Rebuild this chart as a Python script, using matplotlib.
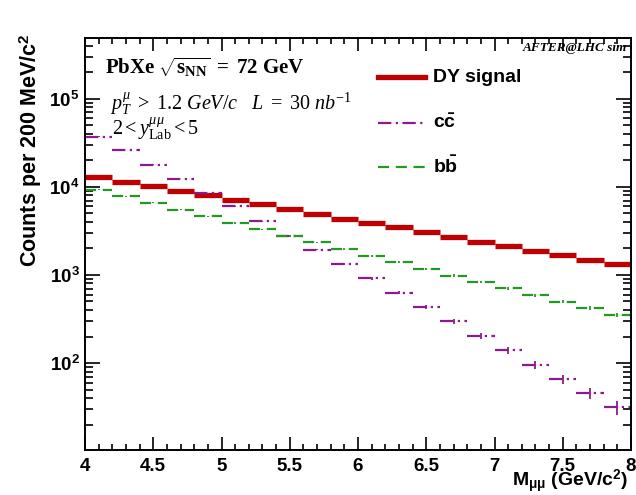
import numpy as np
import matplotlib
matplotlib.use("Agg")
import matplotlib.pyplot as plt
from matplotlib.ticker import LogLocator, MultipleLocator, FuncFormatter, NullFormatter

plt.rcParams['mathtext.fontset'] = 'custom'
plt.rcParams['mathtext.rm'] = 'Liberation Serif'
plt.rcParams['mathtext.it'] = 'Liberation Serif:italic'
plt.rcParams['mathtext.bf'] = 'Liberation Serif:bold'
plt.rcParams['mathtext.sf'] = 'Liberation Sans:bold'

# bin edges in dimuon mass (GeV/c^2), 200 MeV bins
mass_edges = [4.0, 4.2, 4.4, 4.6, 4.8, 5.0, 5.2, 5.4, 5.6, 5.8, 6.0,
              6.2, 6.4, 6.6, 6.8, 7.0, 7.2, 7.4, 7.6, 7.8, 8.0]

dy_counts = [12860, 11500, 10150, 9080, 8110, 7180, 6330, 5560, 4930, 4370,
             3860, 3475, 3105, 2720, 2390, 2135, 1887, 1686, 1493, 1333]
cc_counts = [37300, 26300, 17900, 12300, 8500, 6000, 4050, 2800, 1940, 1333,
             916, 630, 433, 297, 204, 140, 96, 66, 45.6, 31.3]
bb_counts = [9310, 7820, 6580, 5520, 4640, 3895, 3300, 2770, 2345, 1970,
             1645, 1390, 1180, 982, 832, 705, 586, 498, 422, 351]

sans = 'Liberation Sans'

fig = plt.figure(figsize=(6.36, 4.95), dpi=100)
ax = fig.add_axes([85 / 636, 45 / 495, 546 / 636, 412 / 495])

edges = np.array(mass_edges)
centers = 0.5 * (edges[:-1] + edges[1:])


def draw_hist(counts, color, lw, ls):
    counts = np.array(counts)
    err = np.sqrt(counts)
    ax.hlines(counts, edges[:-1], edges[1:], colors=color, linewidth=lw, linestyles=[ls])
    ax.vlines(centers, counts - err, counts + err, colors=color, linewidth=1.3)


draw_hist(dy_counts, '#c00000', 3.8, 'solid')
draw_hist(cc_counts, '#8c1a8c', 1.6, (0, (6, 2, 1, 2)))
draw_hist(bb_counts, '#229922', 1.6, (0, (5, 3)))

ax.set_yscale('log')
ax.set_xlim(4, 8)
ax.set_ylim(10.3, 4.9e5)

ax.xaxis.set_major_locator(MultipleLocator(0.5))
ax.xaxis.set_minor_locator(MultipleLocator(0.1))
ax.xaxis.set_major_formatter(FuncFormatter(lambda v, p: f'{v:g}'))
ax.yaxis.set_major_locator(LogLocator(base=10, numticks=10))
ax.yaxis.set_minor_locator(LogLocator(base=10, subs=np.arange(2, 10), numticks=10))
ax.yaxis.set_minor_formatter(NullFormatter())
ax.yaxis.set_major_formatter(FuncFormatter(lambda v, p: r'$\mathsf{10^{%d}}$' % round(np.log10(v))))

ax.tick_params(axis='both', which='both', direction='in', top=True, right=True, width=1.2, colors='black')
ax.tick_params(axis='x', which='major', length=9.5, pad=6)
ax.tick_params(axis='x', which='minor', length=4.5)
ax.tick_params(axis='y', which='major', length=11, pad=4)
ax.tick_params(axis='y', which='minor', length=5.5)
for lab in ax.get_xticklabels():
    lab.set_fontfamily(sans)
    lab.set_fontweight('bold')
    lab.set_fontsize(13.5)
for lab in ax.get_yticklabels():
    lab.set_fontsize(13.5)
for s in ax.spines.values():
    s.set_linewidth(1.4)

ax.set_xlabel(r'M$_{\mathsf{\mu\mu}}$ (GeV/c$^{\mathsf{2}}$)', fontfamily=sans, fontweight='bold', fontsize=14)
ax.xaxis.set_label_coords(0.995, -0.077)
ax.xaxis.label.set_horizontalalignment('right')
ax.xaxis.label.set_verticalalignment('center')
ax.set_ylabel(r'Counts per 200 MeV/c$^{\mathsf{2}}$', fontfamily=sans, fontweight='bold', fontsize=15.5)
ax.yaxis.set_label_coords(-0.1, 1.01)
ax.yaxis.label.set_verticalalignment('center')
ax.yaxis.label.set_horizontalalignment('right')

# annotations
ax.text(0.037, 0.93, r'$\mathbf{PbXe}\ \sqrt{\mathbf{s}_{\mathbf{NN}}}\ \mathbf{=\ 72\ GeV}$',
        transform=ax.transAxes, fontsize=15, va='center', ha='left')
ax.text(0.045, 0.842, r'$\mathit{p}_{\mathit{T}}^{\mu}\ \mathit{>\ 1.2\ GeV/c}\quad \mathit{L\ =\ 30\ nb}^{\mathit{-1}}$',
        transform=ax.transAxes, fontsize=14.5, va='center', ha='left')
ax.text(0.05, 0.78, r'$2 < \mathit{y}^{\mu\mu}_{\mathrm{Lab}} < 5$',
        transform=ax.transAxes, fontsize=14.5, va='center', ha='left')
ax.text(0.993, 0.975, 'AFTER@LHC sim', transform=ax.transAxes,
        fontsize=9.5, va='center', ha='right', fontfamily='Liberation Serif', fontweight='bold', fontstyle='italic')

# legend drawn by hand like ROOT's TLegend
leg = [('DY signal', '#c00000', 3.8, 'solid', 0.905),
       (r'$\mathsf{c\bar{c}}$', '#8c1a8c', 1.6, (0, (6, 2, 1, 2)), 0.793),
       (r'$\mathsf{b\bar{b}}$', '#229922', 1.6, (0, (5, 3)), 0.688)]
for label, color, lw, ls, yy in leg:
    ax.plot([0.537, 0.623], [yy, yy], transform=ax.transAxes, color=color, linewidth=lw, linestyle=ls)
    ax.text(0.638, yy, label, transform=ax.transAxes, fontsize=14, fontfamily=sans,
            fontweight='bold', va='center', ha='left')

fig.savefig('out.png', dpi=100)
